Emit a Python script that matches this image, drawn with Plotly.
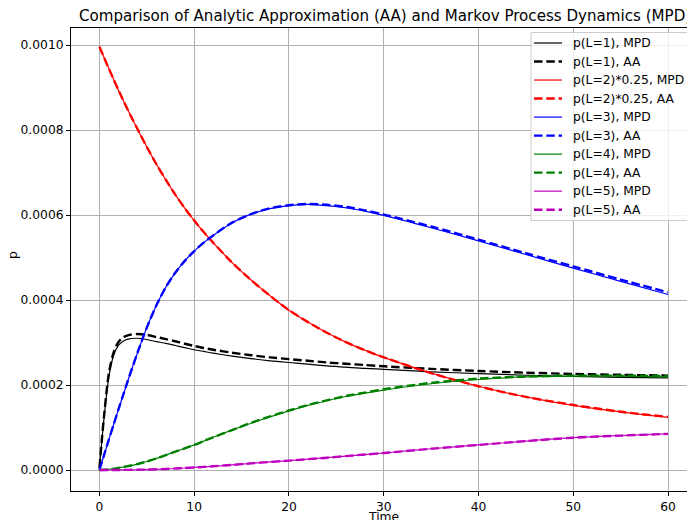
import plotly.graph_objects as go

# Sample times shared by every series
time = [0, 0.5, 1, 1.5, 2, 2.5, 3, 4, 5, 6, 7, 8, 9, 10, 11, 12, 14, 16, 18, 20,
        22, 24, 26, 28, 30, 35, 40, 45, 50, 55, 60]

# p(L=1)
p1_mpd = [0.000005, 0.000125, 0.000220, 0.000270, 0.000293, 0.000303, 0.000308, 0.000310,
          0.000307, 0.000302, 0.000298, 0.000293, 0.000288, 0.000283, 0.000279, 0.000275,
          0.000268, 0.000262, 0.000257, 0.000253, 0.000249, 0.000245, 0.000242, 0.000239,
          0.000237, 0.000231, 0.000227, 0.000223, 0.000220, 0.000218, 0.000217]
p1_aa = [0.000005, 0.000130, 0.000228, 0.000277, 0.000301, 0.000312, 0.000317, 0.000320,
         0.000318, 0.000313, 0.000308, 0.000303, 0.000297, 0.000292, 0.000287, 0.000283,
         0.000276, 0.000270, 0.000265, 0.000261, 0.000257, 0.000253, 0.000250, 0.000247,
         0.000244, 0.000238, 0.000233, 0.000229, 0.000226, 0.000224, 0.000222]

# p(L=2) scaled by 0.25
p2q_mpd = [0.000996, 0.000970, 0.000944, 0.000919, 0.000894, 0.000870, 0.000847, 0.000803,
           0.000760, 0.000720, 0.000683, 0.000648, 0.000616, 0.000587, 0.000560, 0.000535,
           0.000488, 0.000447, 0.000410, 0.000376, 0.000348, 0.000323, 0.000301, 0.000282,
           0.000265, 0.000228, 0.000197, 0.000172, 0.000152, 0.000137, 0.000124]
p2q_aa = [0.000996, 0.000970, 0.000944, 0.000919, 0.000894, 0.000870, 0.000847, 0.000803,
          0.000760, 0.000720, 0.000683, 0.000648, 0.000616, 0.000587, 0.000560, 0.000535,
          0.000488, 0.000447, 0.000410, 0.000376, 0.000348, 0.000323, 0.000301, 0.000282,
          0.000265, 0.000228, 0.000197, 0.000172, 0.000153, 0.000137, 0.000125]

# p(L=3)
p3_mpd = [0.0, 0.000036, 0.000072, 0.000107, 0.000142, 0.000176, 0.000210, 0.000275,
          0.000335, 0.000387, 0.000430, 0.000464, 0.000492, 0.000515, 0.000535, 0.000552,
          0.000582, 0.000602, 0.000615, 0.000622, 0.000625, 0.000622, 0.000617, 0.000609,
          0.000599, 0.000570, 0.000539, 0.000507, 0.000475, 0.000444, 0.000413]
p3_aa = [0.0, 0.000036, 0.000072, 0.000107, 0.000142, 0.000176, 0.000210, 0.000275,
         0.000335, 0.000387, 0.000430, 0.000464, 0.000492, 0.000515, 0.000535, 0.000552,
         0.000582, 0.000602, 0.000616, 0.000623, 0.000626, 0.000624, 0.000619, 0.000611,
         0.000601, 0.000573, 0.000542, 0.000510, 0.000479, 0.000448, 0.000418]

# p(L=4)
p4_mpd = [0.0, 0.0000005, 0.0000015, 0.000003, 0.000005, 0.000007, 0.000009, 0.000014,
          0.000020, 0.000027, 0.000035, 0.000043, 0.000051, 0.000059, 0.000068, 0.000077,
          0.000094, 0.000110, 0.000125, 0.000139, 0.000152, 0.000163, 0.000173, 0.000181,
          0.000188, 0.000203, 0.000213, 0.000219, 0.000221, 0.000221, 0.000219]
p4_aa = [0.0, 0.0000005, 0.0000015, 0.000003, 0.000005, 0.000007, 0.000009, 0.000014,
         0.000020, 0.000027, 0.000035, 0.000043, 0.000051, 0.000059, 0.000068, 0.000077,
         0.000094, 0.000111, 0.000126, 0.000140, 0.000153, 0.000164, 0.000174, 0.000182,
         0.000190, 0.000205, 0.000215, 0.000220, 0.000222, 0.000222, 0.000221]

# p(L=5)
p5_mpd = [0.0, 0.0, 0.0, 0.0, 0.0000001, 0.0000002, 0.0000003, 0.0000006, 0.000001,
          0.0000016, 0.0000025, 0.0000035, 0.0000047, 0.000006, 0.0000073, 0.0000088,
          0.000012, 0.0000155, 0.000019, 0.000022, 0.0000255, 0.000029, 0.0000327,
          0.0000364, 0.000040, 0.000050, 0.000059, 0.000068, 0.000076, 0.000081, 0.000085]
p5_aa = [0.0, 0.0, 0.0, 0.0, 0.0000001, 0.0000002, 0.0000003, 0.0000006, 0.000001,
         0.0000016, 0.0000025, 0.0000035, 0.0000047, 0.000006, 0.0000073, 0.0000088,
         0.000012, 0.0000155, 0.000019, 0.000022, 0.0000255, 0.000029, 0.0000327,
         0.0000364, 0.000040, 0.000050, 0.000059, 0.000068, 0.000076, 0.000081, 0.000085]

series = [
    ("p(L=1), MPD", p1_mpd, "#000000", "solid"),
    ("p(L=1), AA", p1_aa, "#000000", "dash"),
    ("p(L=2)*0.25, MPD", p2q_mpd, "#ff0000", "solid"),
    ("p(L=2)*0.25, AA", p2q_aa, "#ff0000", "dash"),
    ("p(L=3), MPD", p3_mpd, "#0000ff", "solid"),
    ("p(L=3), AA", p3_aa, "#0000ff", "dash"),
    ("p(L=4), MPD", p4_mpd, "#008000", "solid"),
    ("p(L=4), AA", p4_aa, "#008000", "dash"),
    ("p(L=5), MPD", p5_mpd, "#bf00bf", "solid"),
    ("p(L=5), AA", p5_aa, "#bf00bf", "dash"),
]

FONT = "DejaVu Sans"
TXT = 12.3
DASH = "8.5px,3.8px"
SOLID_W, DASH_W = 1.2, 2.4


def line_style(color, style):
    if style == "solid":
        return dict(color=color, width=SOLID_W)
    return dict(color=color, width=DASH_W, dash=DASH)


fig = go.Figure()
for name, vals, color, style in series:
    line = line_style(color, style)
    line.update(shape="spline", smoothing=0.8)
    fig.add_trace(go.Scatter(x=time, y=vals, mode="lines", name=name, line=line,
                             showlegend=False))

# plot area: left 71px, top 28px, bottom 491px, runs off the right edge
L, T, B = 71, 28, 29
W, H = 687, 520
pw = W - L
ph = H - T - B


def px_x(px):
    return (px - L) / pw


def px_y(py):
    return (H - B - py) / ph


# legend box in the upper right corner, drawn by hand
shapes = [dict(type="rect", xref="paper", yref="paper",
               x0=px_x(531), x1=px_x(705), y0=px_y(220.5), y1=px_y(32.5),
               line=dict(color="#cccccc", width=1), fillcolor="rgba(255,255,255,0.8)",
               layer="above")]
annotations = []
row0, row_gap = 43.0, 18.52
for i, (name, vals, color, style) in enumerate(series):
    yc = row0 + i * row_gap
    shapes.append(dict(type="line", xref="paper", yref="paper",
                       x0=px_x(534), x1=px_x(562), y0=px_y(yc), y1=px_y(yc),
                       line=line_style(color, style), layer="above"))
    annotations.append(dict(text=name, x=px_x(571), y=px_y(yc), xref="paper", yref="paper",
                            xanchor="left", yanchor="middle", showarrow=False,
                            font=dict(family=FONT, size=TXT, color="black")))

annotations += [
    dict(text="Comparison of Analytic Approximation (AA) and Markov Process Dynamics (MPD)",
         x=px_x(384.5), y=px_y(16), xref="paper", yref="paper",
         xanchor="center", yanchor="middle", showarrow=False,
         font=dict(family=FONT, size=15.1, color="black")),
    dict(text="Time", x=px_x(383.5), y=px_y(508), xref="paper", yref="paper",
         xanchor="center", yanchor="top", showarrow=False,
         font=dict(family=FONT, size=TXT, color="black")),
    dict(text="p", x=px_x(13), y=px_y(255), xref="paper", yref="paper",
         xanchor="center", yanchor="middle", textangle=-90,
         showarrow=False, font=dict(family=FONT, size=TXT, color="black")),
]

fig.update_layout(
    width=W, height=H,
    margin=dict(l=L, r=0, t=T, b=B, autoexpand=False),
    paper_bgcolor="white", plot_bgcolor="white",
    font=dict(family=FONT, size=TXT, color="black"),
    showlegend=False,
    xaxis=dict(
        range=[-3.0, 62.0], tickvals=[0, 10, 20, 30, 40, 50, 60],
        showgrid=True, gridcolor="#b0b0b0", gridwidth=1,
        showline=True, linecolor="black", linewidth=1, mirror=True,
        ticks="outside", ticklen=4, tickcolor="black", zeroline=False,
        tickfont=dict(family=FONT, size=TXT, color="black"),
    ),
    yaxis=dict(
        range=[-0.0000494, 0.00104],
        tickvals=[0, 0.0002, 0.0004, 0.0006, 0.0008, 0.001], tickformat=".4f",
        showgrid=True, gridcolor="#b0b0b0", gridwidth=1,
        showline=True, linecolor="black", linewidth=1, mirror=False,
        ticks="outside", ticklen=4, tickcolor="black", zeroline=False,
        tickfont=dict(family=FONT, size=TXT, color="black"),
    ),
    shapes=shapes,
    annotations=annotations,
)

fig.write_html("out.html")
